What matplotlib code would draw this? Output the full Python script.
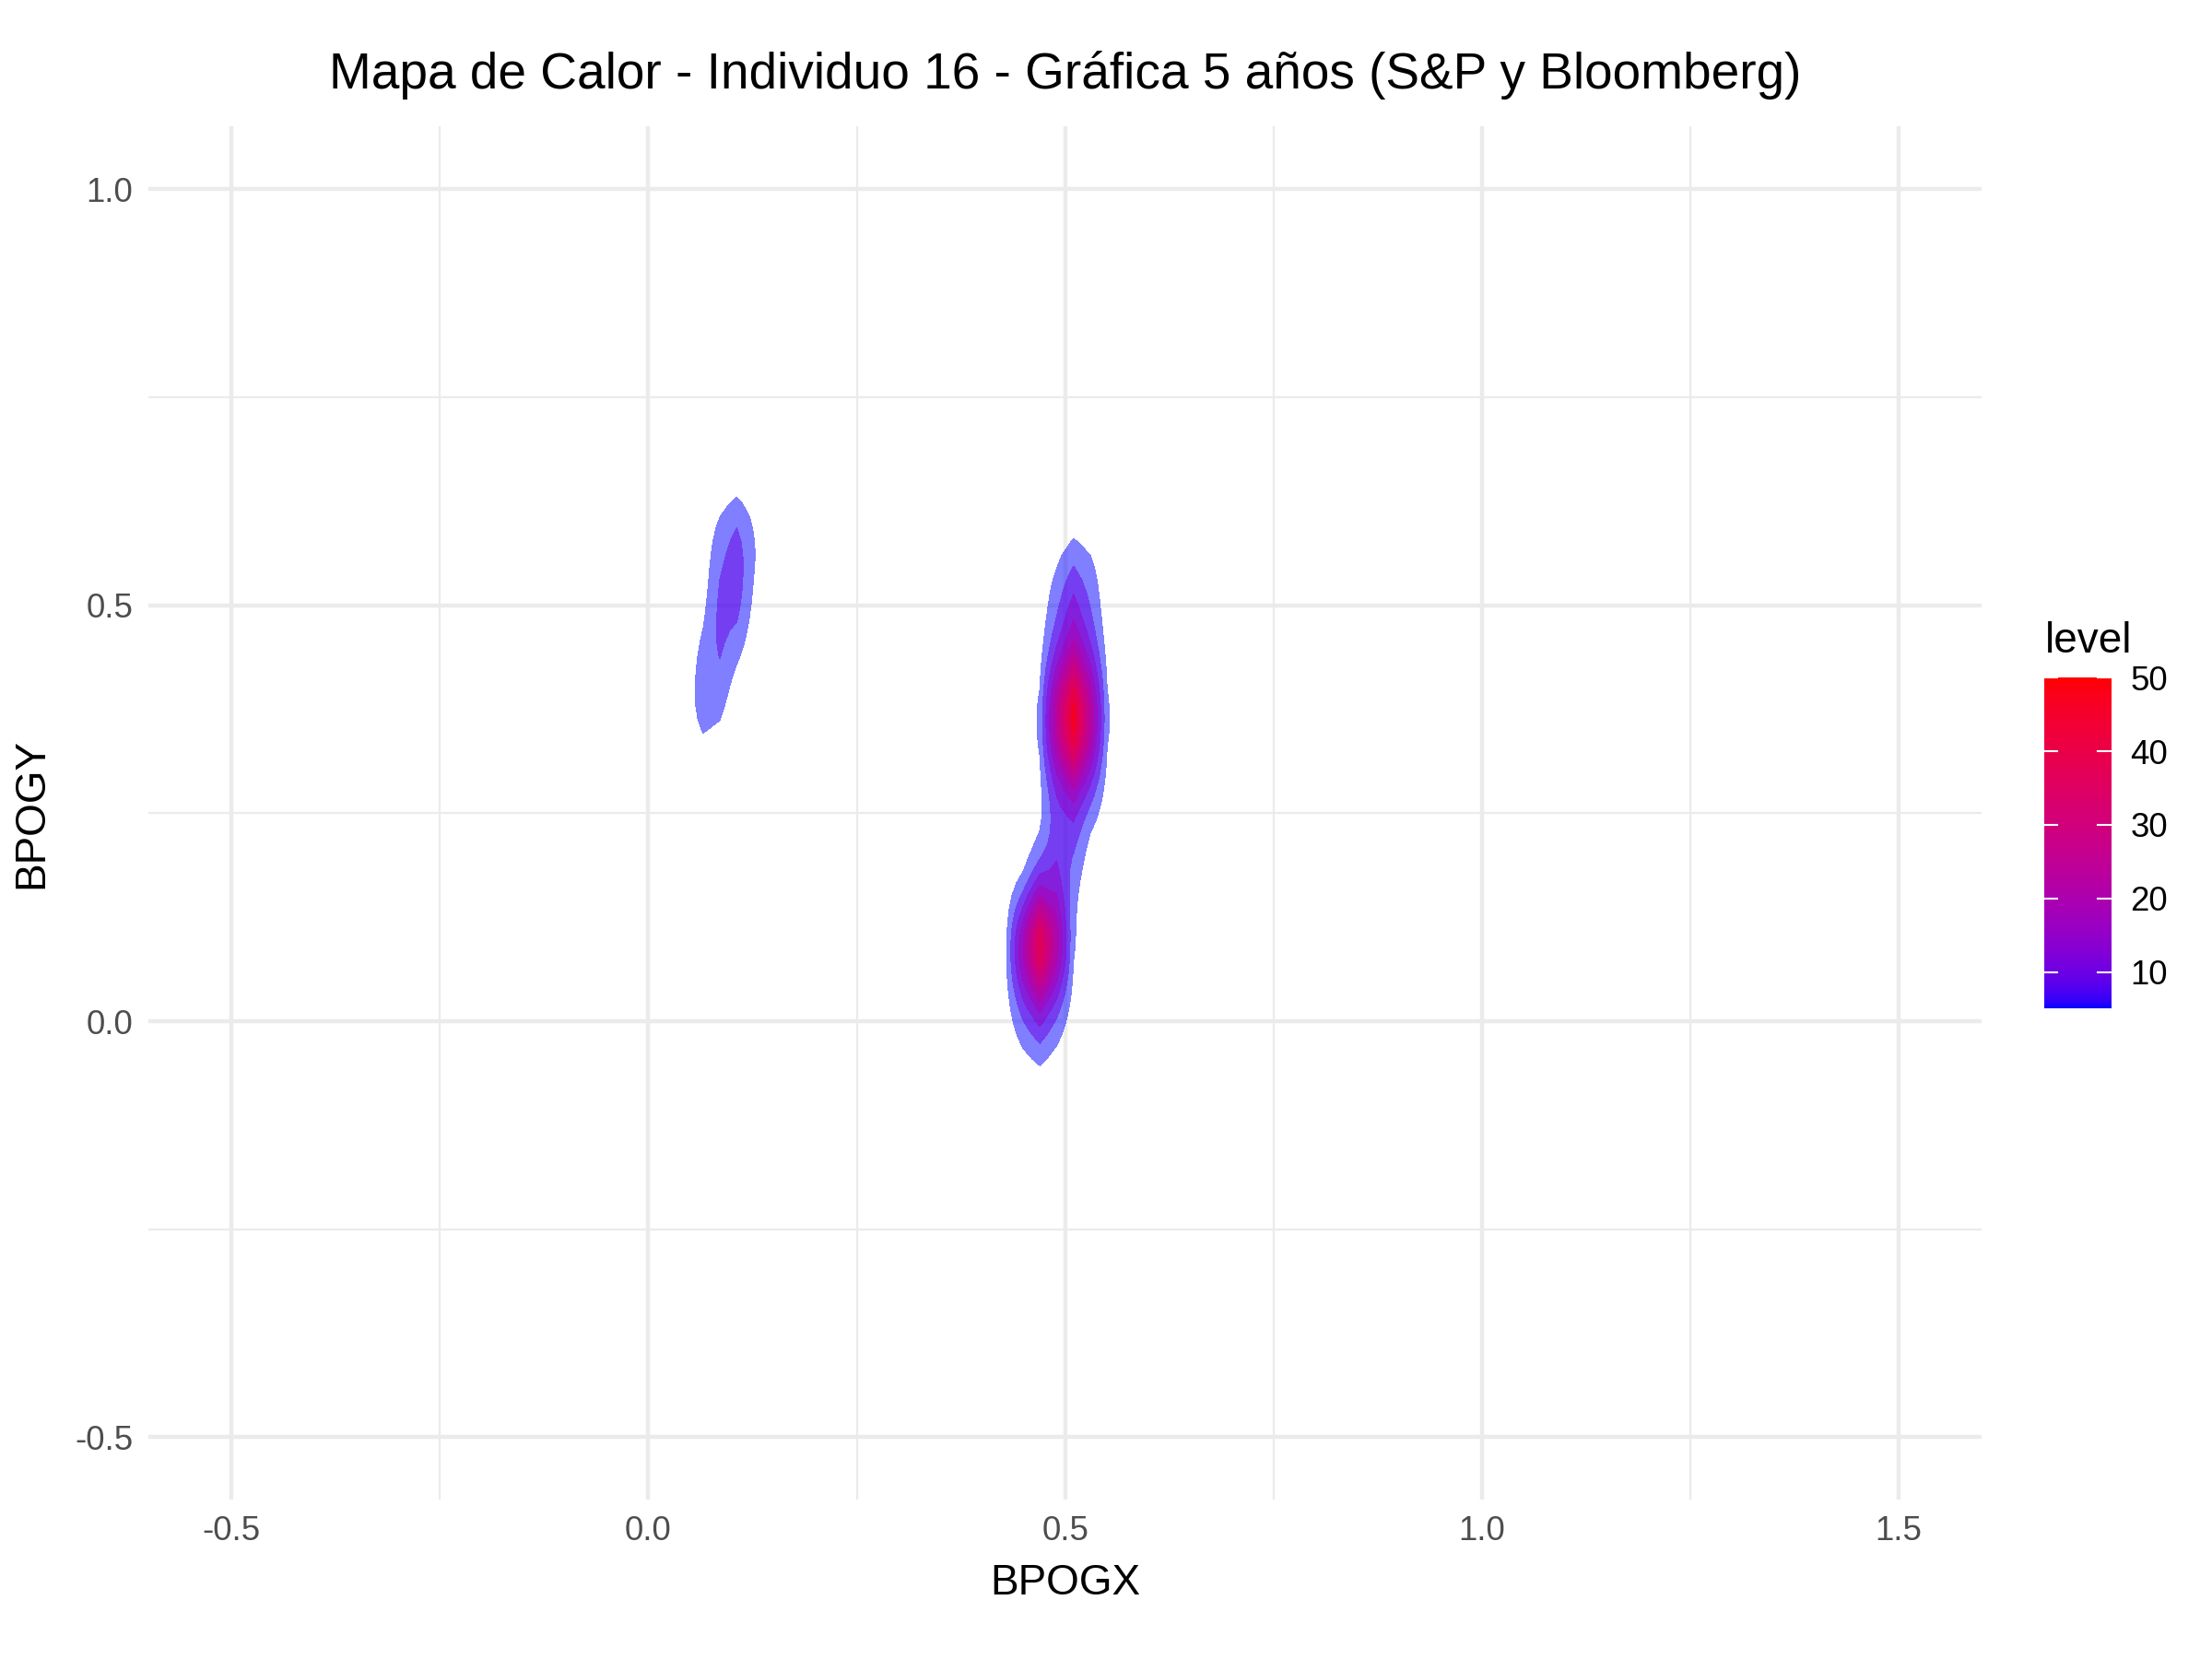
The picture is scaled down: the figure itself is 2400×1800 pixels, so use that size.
import numpy as np
import matplotlib.pyplot as plt

plt.rcParams['font.family'] = ['Liberation Sans', 'DejaVu Sans']

# fixation points (BPOGX, BPOGY), estimated from the heat map
# upper right cluster
up_x = [0.495, 0.50, 0.505, 0.52, 0.50, 0.515, 0.51, 0.50, 0.52, 0.505, 0.515, 0.51, 0.51, 0.50,
        0.52, 0.505, 0.51, 0.515, 0.50, 0.52, 0.51, 0.505, 0.515, 0.51, 0.51, 0.51, 0.515]
up_y = [0.20, 0.23, 0.26, 0.28, 0.30, 0.31, 0.32, 0.33, 0.34, 0.345, 0.35, 0.355, 0.36, 0.365,
        0.37, 0.38, 0.385, 0.39, 0.40, 0.41, 0.42, 0.43, 0.45, 0.47, 0.49, 0.52, 0.55]
# lower right cluster
low_x = [0.47, 0.465, 0.475, 0.46, 0.48, 0.47, 0.465, 0.475, 0.47, 0.46, 0.48, 0.47,
         0.465, 0.475, 0.47, 0.48, 0.485]
low_y = [-0.02, 0.01, 0.03, 0.05, 0.06, 0.07, 0.08, 0.08, 0.09, 0.09, 0.10, 0.10,
         0.11, 0.12, 0.13, 0.15, 0.17]
# left cluster
left_x = [0.07, 0.075, 0.085, 0.095, 0.10, 0.10, 0.105, 0.105]
left_y = [0.36, 0.41, 0.45, 0.48, 0.51, 0.54, 0.57, 0.60]

bpogx = np.array(up_x + low_x + left_x)
bpogy = np.array(up_y + low_y + left_y)

x_lims = (-0.5, 1.5)
y_lims = (-0.5, 1.0)
bw_x, bw_y = 0.018, 0.04   # kernel sd
n_grid = 100

x_ticks = [-0.5, 0.0, 0.5, 1.0, 1.5]
x_labels = ['-0.5', '0.0', '0.5', '1.0', '1.5']
y_ticks = [-0.5, 0.0, 0.5, 1.0]
y_labels = ['-0.5', '0.0', '0.5', '1.0']
bar_ticks = [10, 20, 30, 40, 50]


# 2d kernel density like kde2d
gx = np.linspace(x_lims[0], x_lims[1], n_grid)
gy = np.linspace(y_lims[0], y_lims[1], n_grid)
kx = np.exp(-0.5 * ((gx[None, :] - bpogx[:, None]) / bw_x) ** 2) / (bw_x * np.sqrt(2 * np.pi))
ky = np.exp(-0.5 * ((gy[None, :] - bpogy[:, None]) / bw_y) ** 2) / (bw_y * np.sqrt(2 * np.pi))
dens = ky.T @ kx / len(bpogx)

levels = np.arange(5, dens.max(), 5)


# blue -> red gradient in Lab space
M = np.array([[0.4124, 0.3576, 0.1805], [0.2126, 0.7152, 0.0722], [0.0193, 0.1192, 0.9505]])
white = np.array([0.95047, 1.0, 1.08883])

def to_lab(rgb):
	rgb = np.asarray(rgb, float)
	lin = np.where(rgb <= 0.04045, rgb / 12.92, ((rgb + 0.055) / 1.055) ** 2.4)
	xyz = M @ lin / white
	f = np.where(xyz > 0.008856, np.cbrt(xyz), 7.787 * xyz + 16 / 116)
	return np.array([116 * f[1] - 16, 500 * (f[0] - f[1]), 200 * (f[1] - f[2])])

def from_lab(lab):
	fy = (lab[0] + 16) / 116
	f = np.array([fy + lab[1] / 500, fy, fy - lab[2] / 200])
	xyz = np.where(f ** 3 > 0.008856, f ** 3, (f - 16 / 116) / 7.787) * white
	lin = np.clip(np.linalg.inv(M) @ xyz, 0, None)
	rgb = np.where(lin <= 0.0031308, 12.92 * lin, 1.055 * lin ** (1 / 2.4) - 0.055)
	return np.clip(rgb, 0, 1)

lab_lo = to_lab([0, 0, 1])
lab_hi = to_lab([1, 0, 0])
lo, hi = levels[0], levels[-1]

def fill_col(v):
	t = (v - lo) / (hi - lo)
	return from_lab(lab_lo + t * (lab_hi - lab_lo))


fig = plt.figure(figsize=(8, 6), dpi=300)
ax = fig.add_axes([0.067, 0.096, 0.829, 0.8277])

ax.set_xticks(x_ticks, x_labels)
ax.set_yticks(y_ticks, y_labels)
ax.set_xticks([-0.25, 0.25, 0.75, 1.25], minor=True)
ax.set_yticks([-0.25, 0.25, 0.75], minor=True)
ax.grid(which='major', color='#EBEBEB', lw=1.07)
ax.grid(which='minor', color='#EBEBEB', lw=0.53)
ax.set_axisbelow(True)
for s in ax.spines.values():
	s.set_visible(False)
ax.tick_params(which='both', length=0, labelsize=8.8, labelcolor='#4D4D4D', pad=4)

for lv in levels:
	ax.contourf(gx, gy, dens, levels=[lv, dens.max() + 1], colors=[fill_col(lv)], alpha=0.5)

ax.set_xlim(-0.6, 1.6)
ax.set_ylim(-0.575, 1.075)
ax.set_xlabel('BPOGX', fontsize=11, labelpad=4)
ax.set_ylabel('BPOGY', fontsize=11, labelpad=6)
ax.set_title('Mapa de Calor - Individuo 16 - Gráfica 5 años (S&P y Bloomberg)', fontsize=13.2, pad=10)

# colour bar legend
cax = fig.add_axes([0.924, 0.392, 0.0304, 0.1994])
vals = np.linspace(lo, hi, 300)
cax.imshow(np.array([fill_col(v) for v in vals])[:, None, :], extent=[0, 1, lo, hi],
           aspect='auto', origin='lower')
shown = [v for v in bar_ticks if v <= hi]
for v in shown:
	cax.plot([0, 0.2], [v, v], color='white', lw=0.5)
	cax.plot([0.8, 1], [v, v], color='white', lw=0.5)
cax.set_xlim(0, 1)
cax.set_ylim(lo, hi)
cax.set_xticks([])
cax.yaxis.tick_right()
cax.set_yticks(shown, [str(v) for v in shown])
cax.tick_params(length=0, labelsize=8.8, pad=5)
for s in cax.spines.values():
	s.set_visible(False)
fig.text(0.9245, 0.6067, 'level', fontsize=11, va='baseline')

plt.savefig('out.png', dpi=300)
